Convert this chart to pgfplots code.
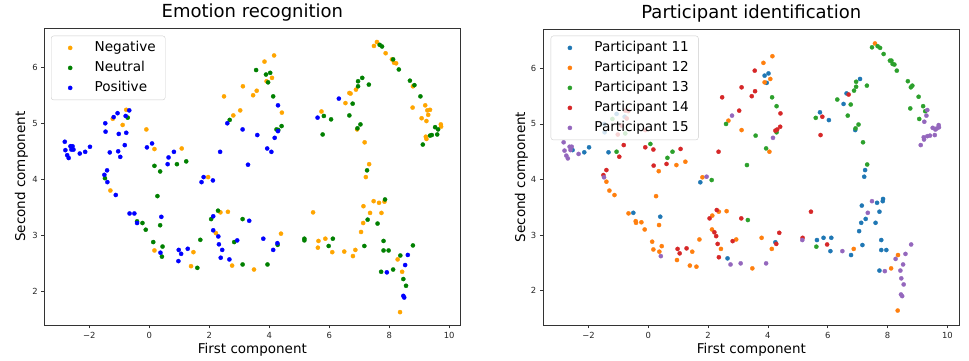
\documentclass[border=0pt]{standalone}
\usepackage{fontspec}
\setmainfont{DejaVu Sans}
\usepackage{pgfplots}
\pgfplotsset{compat=1.18}
\definecolor{mplorange}{HTML}{FFA500}
\definecolor{mplgreen}{HTML}{008000}
\definecolor{mplblue}{HTML}{0000FF}
\definecolor{tabblue}{HTML}{1F77B4}
\definecolor{taborange}{HTML}{FF7F0E}
\definecolor{tabgreen}{HTML}{2CA02C}
\definecolor{tabred}{HTML}{D62728}
\definecolor{tabpurple}{HTML}{9467BD}
\pgfplotsset{
 pca/.style={
  scale only axis,
  axis line style={black!80, line width=0.8pt},
  tick align=outside, xtick pos=bottom, ytick pos=left,
  major tick length=3.5pt,
  every tick/.style={black!80, line width=0.8pt},
  xtick={-2,0,2,4,6,8,10}, xticklabels={−2,0,2,4,6,8,10},
  ytick={2,3,4,5,6}, yticklabels={2,3,4,5,6},
  ticklabel style={font=\fontsize{8.4}{10}\selectfont, text=black!85},
  label style={font=\fontsize{13.5}{16}\selectfont},
  xlabel={First component}, ylabel={Second component},
  xlabel style={at={(axis description cs:0.5,0)}, anchor=base, yshift=-29pt},
  title style={font=\fontsize{18}{21}\selectfont, inner sep=0pt, yshift=1pt},
  legend style={at={(axis description cs:0,1)}, anchor=north west,
    draw=black!20, rounded corners=2.5pt, fill=white, fill opacity=0.8, text opacity=1,
    font=\fontsize{13.6}{16}\selectfont, inner xsep=5pt, inner ysep=2pt, row sep=0pt,
    nodes={text height=9.8pt, text depth=2.8pt, inner ysep=3.7pt, inner xsep=4.5pt}},
  legend cell align=left,
 },
 pts/.style={only marks, mark=*, mark size=2.1pt, color=#1, mark options={draw=#1, fill=#1, line width=0.3pt},
   legend image code/.code={\path[draw=none, fill=none] (0pt,-3pt) rectangle (34pt,3pt);
     \draw[##1, mark repeat=2, mark phase=2, draw opacity=1, fill opacity=1] plot coordinates {(0pt,0pt) (14pt,0pt) (34pt,0pt)};}},
}
\begin{document}
\begin{tikzpicture}
\useasboundingbox (0,0) rectangle (969pt,361pt);
\begin{axis}[pca, at={(44.7pt,36pt)}, anchor=south west, width=415.3pt, height=297pt,
  xmin=-3.49, xmax=10.36, ymin=1.40, ymax=6.70,
  ylabel style={at={(axis description cs:-0.0474,0.5)}, anchor=base},
  legend style={xshift=6.3pt, yshift=-7.7pt},
  title={Emotion recognition}]
\addplot[pts=mplorange] coordinates {
(-0.77,5.24) (-1.22,5.08) (-0.89,4.97) (-0.10,4.89) (0.17,4.54) (1.08,4.55) (1.96,4.04) (2.49,5.48) (3.12,5.66) (3.46,5.50) (3.03,5.23) (2.80,5.14)
(4.16,6.21) (3.84,6.10) (4.09,5.81) (3.91,5.75) (3.58,5.58) (4.42,5.19)
(5.74,5.21) (6.67,5.54) (6.71,5.53) (6.54,5.36) (6.89,5.60) (6.93,4.89) (7.18,4.66) (7.33,4.27) (7.22,4.04)
(7.59,6.45) (7.49,6.38) (7.88,6.25) (8.09,6.14) (8.16,6.08) (8.23,6.07) (8.79,5.66) (8.78,5.28) (9.20,5.32) (9.27,5.23) (9.36,5.24) (9.30,5.15) (9.08,5.09) (9.24,5.04) (9.72,4.98) (9.73,4.94) (9.22,4.76) (9.24,4.72)
(-1.30,3.80) (0.17,2.73) (1.47,2.70) (1.39,2.45) (2.37,3.41) (2.62,3.42) (2.22,3.04) (2.76,2.46) (3.49,2.39)
(4.39,3.03) (5.46,3.41) (5.64,2.90) (5.62,2.78) (5.87,2.94) (6.10,2.70) (6.50,2.71) (6.87,2.74) (6.79,2.63) (7.06,3.06) (7.13,3.22) (7.36,3.40) (7.14,3.52) (7.48,3.61) (7.66,3.58) (7.84,3.60) (7.74,3.40) (8.28,2.57) (8.43,2.35) (8.36,1.63)
};
\addlegendentry{Negative}
\addplot[pts=mplgreen] coordinates {
(-0.72,5.10) (0.17,4.24) (0.36,4.14) (0.92,4.27) (1.23,4.32) (-1.48,4.02) (2.68,5.06)
(3.56,5.95) (3.89,5.87) (4.03,5.90) (3.96,5.73) (4.13,5.48) (4.30,4.88) (4.41,4.95) (4.24,4.89)
(5.82,5.13) (6.06,5.07) (5.78,4.80) (6.78,5.35) (6.96,5.66) (6.96,5.75) (7.10,5.81) (7.32,5.69) (6.67,5.14) (7.04,4.98) (6.94,4.91) (7.26,4.16)
(7.68,6.40) (7.76,6.37) (8.13,6.14) (8.32,5.96) (8.69,5.76) (8.84,5.68) (9.04,5.48) (9.53,4.93) (9.63,4.89) (9.36,4.78) (9.42,4.79) (9.60,4.80) (9.12,4.62)
(0.27,3.70) (-0.41,3.25) (-0.23,3.22) (-0.12,3.10) (0.36,3.18) (0.13,2.88) (0.44,2.80) (0.42,2.62) (1.60,2.42) (1.70,2.92) (2.06,3.29) (2.29,3.44) (3.11,3.29) (2.83,2.88) (3.11,2.48)
(4.28,2.83) (3.94,2.48) (5.17,2.94) (5.17,2.91) (6.12,2.94) (5.98,2.81) (7.17,2.81) (7.28,3.28) (7.86,3.64) (7.61,3.21) (7.81,2.90) (7.81,2.73) (7.98,2.73) (8.79,2.82) (8.37,2.64) (8.13,2.39) (7.73,2.35) (8.47,2.22) (8.56,2.10)
};
\addlegendentry{Neutral}
\addplot[pts=mplblue] coordinates {
(-0.67,5.23) (-0.79,5.13) (-1.06,5.18) (-1.19,5.11) (-1.47,5.00) (-1.46,4.85) (-1.02,4.81) (-0.77,4.83) (-0.82,4.61) (-0.08,4.57) (0.09,4.64) (-1.32,4.48) (-1.04,4.50) (-0.97,4.40)
(-2.82,4.67) (-2.80,4.52) (-2.74,4.43) (-2.69,4.38) (-2.63,4.59) (-2.56,4.59) (-2.60,4.53) (-2.53,4.53) (-2.32,4.46) (-2.14,4.49) (-1.98,4.58)
(0.64,4.39) (0.82,4.49) (0.61,4.27) (-1.50,4.08) (-1.41,4.16) (1.81,4.04) (2.12,3.98) (1.74,3.95) (2.36,4.49) (2.60,5.00) (3.11,4.89) (3.29,4.26)
(4.29,5.32) (3.60,4.79) (4.18,4.74) (4.29,4.86) (3.93,4.55) (4.07,4.49) (6.32,5.44) (5.61,5.10)
(-1.40,3.95) (-1.12,3.72) (-0.66,3.39) (-0.50,3.39) (-0.41,3.22) (0.40,3.33) (0.37,2.69) (0.98,2.74) (1.06,2.67) (1.28,2.76) (0.97,2.54) (2.13,3.34) (3.33,3.26) (2.13,3.09) (2.30,2.98) (2.32,2.84) (2.43,2.74) (2.38,2.60) (2.67,2.57) (2.93,2.91)
(3.80,2.94) (4.27,2.86) (4.13,2.74) (8.62,2.65) (8.53,2.47) (7.92,2.34) (8.47,1.92) (8.50,1.89)
};
\addlegendentry{Positive}
\end{axis}
\begin{axis}[pca, at={(543.3pt,36pt)}, anchor=south west, width=416pt, height=296pt,
  xmin=-3.51, xmax=10.40, ymin=1.38, ymax=6.71,
  ylabel style={at={(axis description cs:-0.044,0.5)}, anchor=base},
  legend style={xshift=7.4pt, yshift=-6.7pt},
  title={Participant identification}]
\addplot[pts=tabblue] coordinates {
(-1.47,5.00) (-1.46,4.85) (-1.06,5.18) (-0.79,5.13)
(-2.53,4.53) (-2.14,4.49) (-1.98,4.58) (-1.33,4.49) (1.74,3.95)
(3.89,5.87) (4.02,5.91) (3.96,5.74) (5.74,5.21) (6.04,5.07) (6.63,5.55) (6.53,5.36) (7.08,5.81) (6.92,4.89) (7.25,4.17) (7.22,4.05)
(-0.50,3.40) (0.40,3.33) (2.65,2.58)
(4.25,2.87) (5.64,2.91) (5.86,2.95) (6.12,2.95) (6.09,2.71) (6.78,2.64) (7.16,2.82) (7.05,3.07) (7.12,3.22) (7.27,3.29) (7.14,3.53) (7.65,3.58) (7.85,3.65) (7.84,3.61) (7.73,3.42) (7.60,3.22) (7.79,2.91) (7.79,2.73) (7.96,2.73) (7.73,2.36)
};
\addlegendentry{Participant 11}
\addplot[pts=taborange] coordinates {
(0.35,4.15) (0.94,4.26) (1.24,4.32) (-1.40,3.96) (1.81,4.04) (2.68,5.06) (3.12,4.89)
(4.15,6.22) (3.85,6.10) (4.08,5.81) (3.89,5.75) (4.05,4.50) (7.58,6.45)
(-1.30,3.80) (-1.13,3.72) (0.26,3.70) (-0.66,3.39) (-0.42,3.25) (-0.41,3.22) (-0.23,3.23) (-0.12,3.10) (0.36,3.18) (0.13,2.88) (0.17,2.74) (0.45,2.80) (0.37,2.70) (1.47,2.70) (0.96,2.55) (1.39,2.45) (1.61,2.43) (1.71,2.92) (2.14,3.35) (2.36,3.42) (2.62,3.43) (2.13,3.10) (2.43,2.75) (2.94,2.92) (3.48,2.40)
(3.79,2.95) (4.13,2.75) (6.87,2.75) (8.35,2.64) (8.12,2.40) (8.34,1.64)
};
\addlegendentry{Participant 12}
\addplot[pts=tabgreen] coordinates {
(-1.20,5.09) (-0.77,4.83)
(-1.06,4.50) (0.07,4.64) (0.64,4.39) (0.81,4.50) (2.60,5.00) (3.30,4.26) (2.12,3.99)
(4.14,5.48) (4.29,5.32) (3.59,4.79) (4.29,4.85) (3.94,4.56) (6.32,5.44) (5.60,5.11) (6.77,5.35) (6.88,5.60) (6.95,5.67) (6.95,5.76) (7.31,5.69) (6.67,5.15) (7.03,4.99) (6.93,4.92) (7.18,4.67) (7.32,4.27)
(7.48,6.38) (7.67,6.40) (7.75,6.37) (7.87,6.26) (8.08,6.14) (8.13,6.14) (8.17,6.08) (8.23,6.07) (8.31,5.96) (8.68,5.77) (8.83,5.69) (8.78,5.66) (9.04,5.49) (8.76,5.28) (9.19,5.32) (9.26,5.23) (9.06,5.09)
(3.33,3.27) (5.62,2.79)
};
\addlegendentry{Participant 13}
\addplot[pts=tabred] coordinates {
(-0.77,5.24) (-0.67,5.23) (-0.72,5.10) (-1.02,4.81) (-0.10,4.89) (-0.89,4.97)
(-0.97,4.41) (-0.82,4.62) (-0.10,4.58) (0.17,4.54) (1.08,4.55) (0.18,4.25) (0.61,4.28) (-1.50,4.08) (-1.40,4.17) (2.35,4.50) (2.47,5.48) (3.12,5.66) (3.46,5.50) (3.04,5.24)
(3.56,5.96) (3.57,5.59) (4.42,5.19) (4.25,4.88) (4.31,4.90) (4.41,4.95) (5.82,5.13) (5.76,4.80) (6.70,5.53)
(0.98,2.75) (1.05,2.67) (1.28,2.76) (2.05,3.30) (2.29,3.45) (3.11,3.30) (2.21,3.05) (2.27,2.98) (2.32,2.84) (2.36,2.60) (2.82,2.89)
(4.38,3.04) (4.28,2.84) (5.44,3.42) (5.16,2.95) (5.98,2.83)
};
\addlegendentry{Participant 14}
\addplot[pts=tabpurple] coordinates {
(-2.83,4.67) (-2.80,4.52) (-2.74,4.43) (-2.69,4.38) (-2.63,4.59) (-2.56,4.59) (-2.60,4.53) (-2.33,4.46) (-1.48,4.04) (1.95,4.05) (2.80,5.15) (4.17,4.75)
(9.33,5.25) (9.30,5.15) (9.23,5.04) (9.71,4.98) (9.72,4.94) (9.51,4.93) (9.60,4.90) (9.65,4.92) (9.21,4.76) (9.22,4.72) (9.33,4.78) (9.42,4.79) (9.58,4.80) (9.11,4.62)
(0.42,2.62) (2.75,2.47) (3.09,2.49)
(3.94,2.49) (5.15,2.91) (6.49,2.71) (7.34,3.40) (7.48,3.61) (8.79,2.83) (8.60,2.66) (8.27,2.57) (8.52,2.47) (8.43,2.36) (7.91,2.35) (8.46,2.22) (8.54,2.11) (8.45,1.93) (8.49,1.90)
};
\addlegendentry{Participant 15}
\end{axis}
\end{tikzpicture}
\end{document}
